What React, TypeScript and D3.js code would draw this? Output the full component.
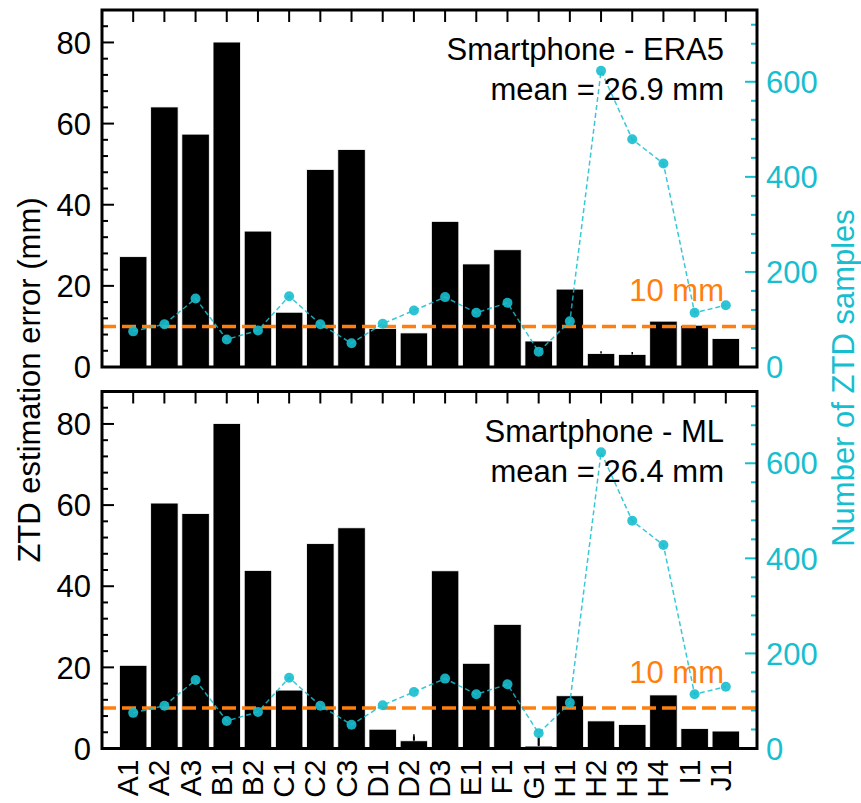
import React from 'react';
import * as d3 from 'd3';

// station codes along the x axis
const stations = ['A1','A2','A3','B1','B2','C1','C2','C3','D1','D2','D3','E1','F1','G1','H1','H2','H3','H4','I1','J1'];

// ZTD error (mm), smartphone vs ERA5
const errEra5 = [27.2,64.1,57.4,80.1,33.5,13.5,48.7,53.6,9.5,8.4,35.9,25.4,28.9,6.4,19.2,3.3,3.1,11.3,10.3,7.0];
const sdEra5 = [0,0,0,0,0,0,0,0,0,0,0,0,0,0,0,0.6,0.6,0,0,0];
// ZTD error (mm), smartphone vs ML
const errMl = [20.5,60.5,57.9,80.1,43.9,14.4,50.5,54.4,4.75,1.9,43.8,21.0,30.6,0.6,13.0,6.8,5.9,13.2,4.9,4.3];
const sdMl = [0,0,0,0,0,0,0,0,0,1.6,0,0,0,2.0,0,0,0,0,0,0];
// number of ZTD samples per station
const samples = [75,90,144,58,77,149,90,50,91,119,147,114,135,32,96,623,479,428,114,130];

const leftTicks = [0, 20, 40, 60, 80];
const rightTicks = [0, 200, 400, 600];

const panels = [
  { title: 'Smartphone - ERA5', mean: 'mean = 26.9 mm', err: errEra5, sd: sdEra5, top: 10 },
  { title: 'Smartphone - ML', mean: 'mean = 26.4 mm', err: errMl, sd: sdMl, top: 391.5 },
];

const CYAN = '#17becf';
const ORANGE = '#ff7f0e';
const FONT = '"Liberation Sans", Arial, sans-serif';
const FS = 31;

const left = 102, right = 757, ph = 357;

function Panel({ p, showX }: any) {
  const x = d3.scaleLinear().domain([-1, stations.length]).range([left, right]);
  const y = d3.scaleLinear().domain([0, 88]).range([p.top + ph, p.top]);
  const y2 = d3.scaleLinear().domain([0, 751]).range([p.top + ph, p.top]);
  const bw = (x(1) - x(0)) * 0.88;
  const line = d3.line<number>().x((_, i) => x(i)).y(d => y2(d));
  const minorL = d3.range(0, 88, 4);
  const minorR = d3.range(0, 751, 40);

  return (
    <g>
      {/* inward ticks */}
      {stations.map((s, i) => (
        <g key={s}>
          <line x1={x(i)} x2={x(i)} y1={p.top} y2={p.top + 12} stroke="#000" strokeWidth={2} />
          <line x1={x(i)} x2={x(i)} y1={p.top + ph} y2={p.top + ph - 12} stroke="#000" strokeWidth={2} />
        </g>
      ))}
      {minorL.map(v => (
        <line key={'ml' + v} x1={left} x2={left + (v % 20 === 0 ? 12 : 6)} y1={y(v)} y2={y(v)} stroke="#000" strokeWidth={2} />
      ))}
      {minorR.map(v => (
        <line key={'mr' + v} x1={right} x2={right - (v % 200 === 0 ? 12 : 6)} y1={y2(v)} y2={y2(v)} stroke={CYAN} strokeWidth={2} />
      ))}

      {/* bars */}
      {p.err.map((v: number, i: number) => (
        <rect key={i} x={x(i) - bw / 2} y={y(v)} width={bw} height={y(0) - y(v)} fill="#000" stroke="#fff" strokeWidth={0.8} />
      ))}
      {p.sd.map((v: number, i: number) => v > 0 ? (
        <line key={'sd' + i} x1={x(i)} x2={x(i)} y1={y(p.err[i])} y2={y(p.err[i] + v)} stroke="#000" strokeWidth={1.5} />
      ) : null)}

      {/* 10 mm threshold */}
      <line x1={left} x2={right} y1={y(10)} y2={y(10)} stroke={ORANGE} strokeWidth={3.5} strokeDasharray="14,6" />
      <text x={724} y={p.top + 291} textAnchor="end" fill={ORANGE} fontSize={FS} fontFamily={FONT}>10 mm</text>

      {/* sample counts */}
      <path d={line(samples) || ''} fill="none" stroke={CYAN} strokeWidth={1.5} strokeDasharray="5,3" opacity={0.85} />
      {samples.map((v, i) => (
        <circle key={'c' + i} cx={x(i)} cy={y2(v)} r={5} fill={CYAN} opacity={0.9} />
      ))}

      {/* frame */}
      <rect x={left} y={p.top} width={right - left} height={ph} fill="none" stroke="#000" strokeWidth={3} />

      {/* tick labels */}
      {leftTicks.map(v => (
        <text key={'l' + v} x={91} y={y(v)} dy="0.36em" textAnchor="end" fontSize={FS} fontFamily={FONT}>{v}</text>
      ))}
      {rightTicks.map(v => (
        <text key={'r' + v} x={766} y={y2(v)} dy="0.36em" fill={CYAN} fontSize={FS} fontFamily={FONT}>{v}</text>
      ))}

      <text x={724} y={p.top + 50} textAnchor="end" fontSize={FS} fontFamily={FONT}>{p.title}</text>
      <text x={724} y={p.top + 90} textAnchor="end" fontSize={FS} fontFamily={FONT}>{p.mean}</text>

      {showX && stations.map((s, i) => (
        <text key={'x' + s} transform={`translate(${x(i) + 5},${p.top + ph + 11}) rotate(-90)`} textAnchor="end" fontSize={30} fontFamily={FONT}>{s}</text>
      ))}
    </g>
  );
}

export default function App() {
  return (
    <svg width={861} height={803} style={{ position: 'absolute', left: 0, top: 0, background: '#fff' }}>
      {panels.map((p, k) => <Panel key={k} p={p} showX={k === 1} />)}
      <text transform="translate(40,380) rotate(-90)" textAnchor="middle" fontSize={FS} fontFamily={FONT}>ZTD estimation error (mm)</text>
      <text transform="translate(854,378) rotate(-90)" textAnchor="middle" fill={CYAN} fontSize={FS} fontFamily={FONT}>Number of ZTD samples</text>
    </svg>
  );
}
